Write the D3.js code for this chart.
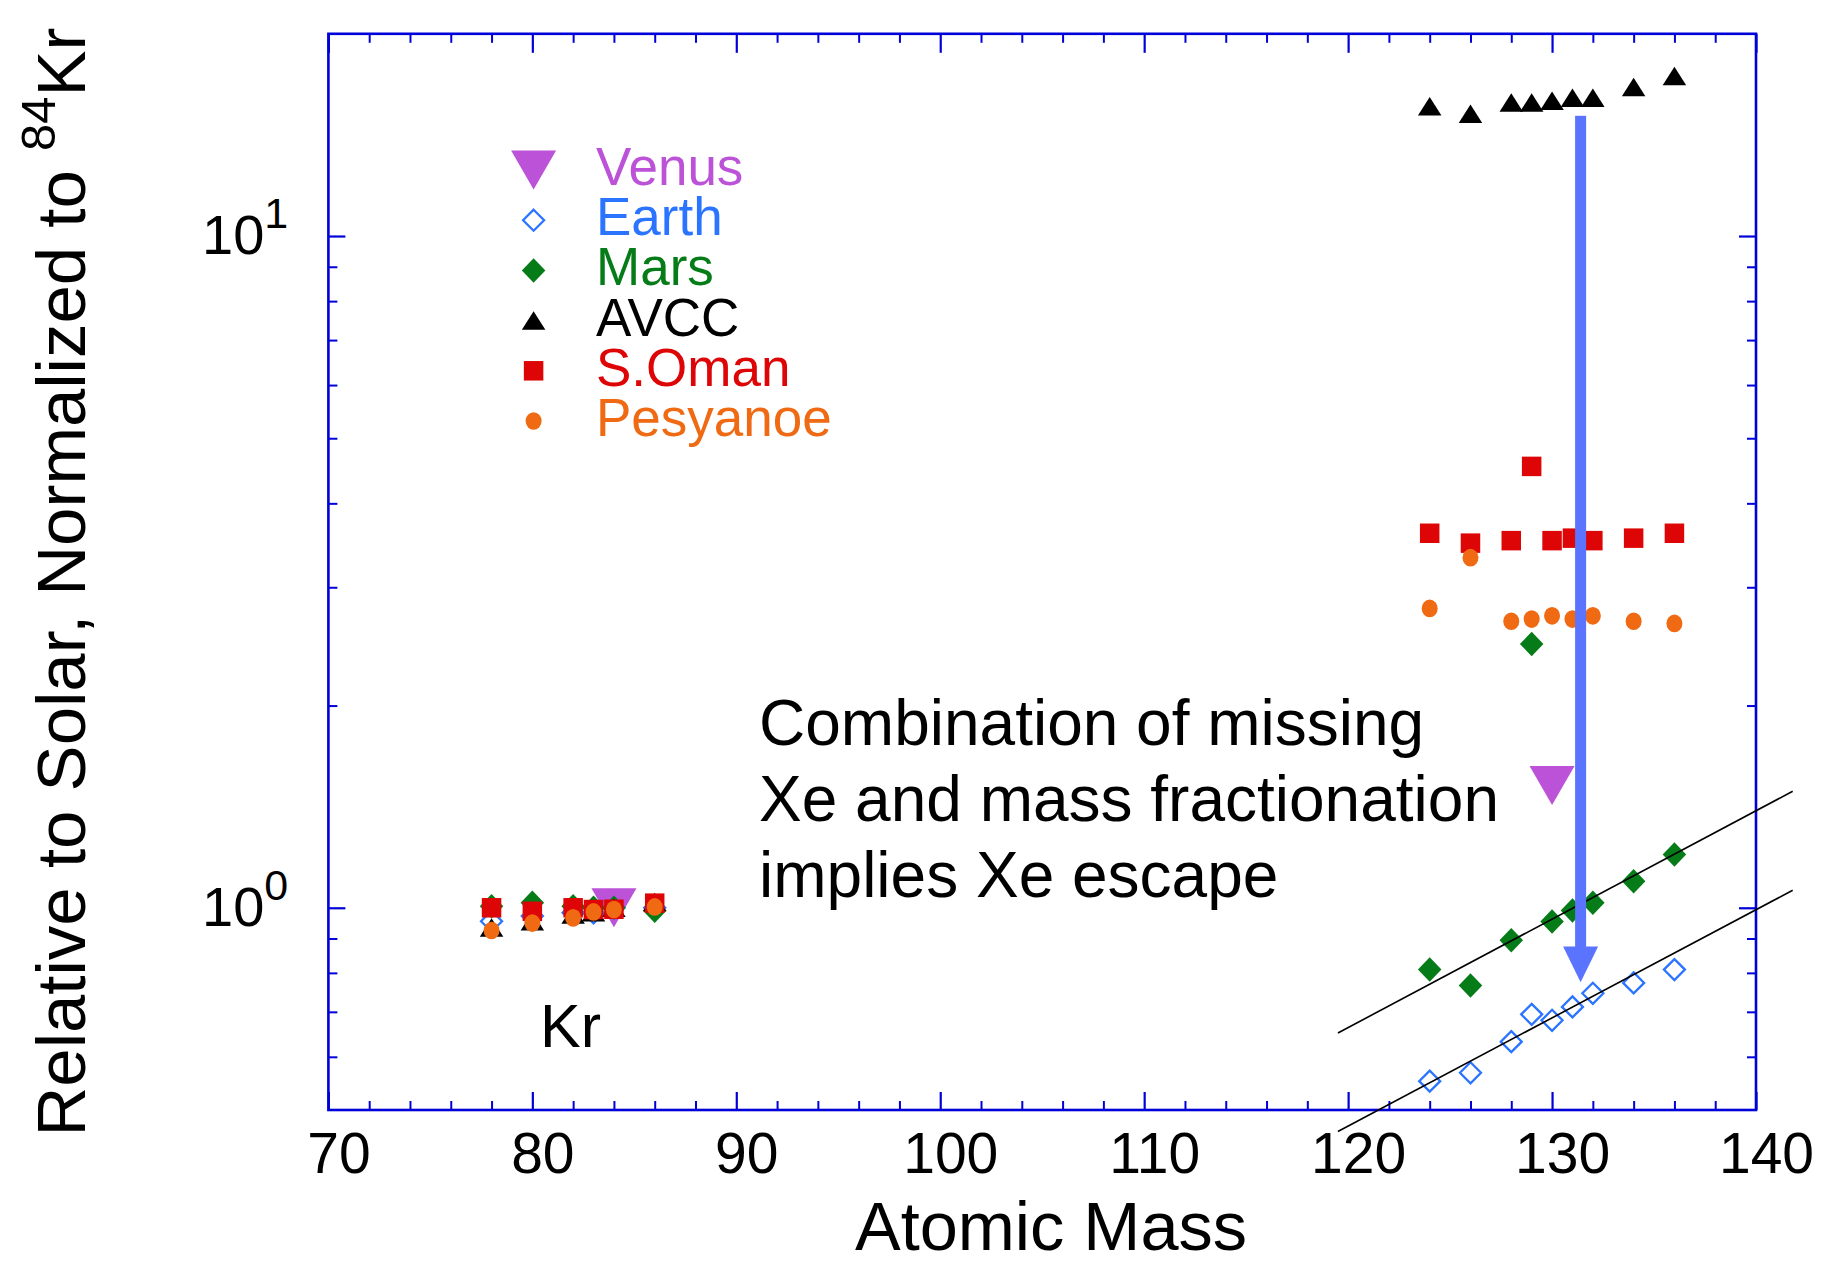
<!DOCTYPE html>
<html>
<head>
<meta charset="utf-8">
<script src="https://cdn.jsdelivr.net/npm/d3@7"></script>
<style>
  html, body { margin: 0; padding: 0; background: #fff; }
  svg { display: block; font-family: "Liberation Sans", Arial, Helvetica, sans-serif; }
</style>
</head>
<body>
<svg id="chart" width="1826" height="1261"></svg>
<script>
// Isotope masses
const krMass = [78, 80, 82, 83, 84, 86];
const xeMass = [124, 126, 128, 129, 130, 131, 132, 134, 136];

// Abundances relative to solar, normalised to 84Kr
const venusMass  = [84, 130];
const venusValue = [1.0, 1.52];

const earthKr = [0.955, 0.972, 0.983, 0.983, 1.0, 1.0];
const earthXe = [0.552, 0.568, 0.632, 0.694, 0.680, 0.712, 0.746, 0.773, 0.809];

const marsKr = [1.005, 1.017, 1.005, 1.0, 1.0, 0.99];
const marsXe = [0.809, 0.766, 0.895, 2.47, 0.954, 0.991, 1.017, 1.095, 1.20];

const avccKr = [0.935, 0.955, 0.977, 0.985, 1.0, 1.02];
const avccXe = [15.6, 15.2, 15.8, 15.8, 15.9, 16.06, 16.06, 16.66, 17.3];

const omanKr = [1.0, 0.988, 1.0, 0.994, 0.995, 1.016];
const omanXe = [3.61, 3.49, 3.52, 4.54, 3.52, 3.55, 3.52, 3.55, 3.61];

const pesyKr = [0.925, 0.949, 0.966, 0.986, 0.994, 1.003];
const pesyXe = [2.79, 3.32, 2.67, 2.69, 2.72, 2.69, 2.72, 2.67, 2.65];

// Mass-fractionation trend lines through the Xe isotopes
const fitMass  = [119.5, 141.8];
const marsFit  = [0.651, 1.491];
const earthFit = [0.4645, 1.062];

// Escape arrow: mass position, start value, head base, tip value
const arrowMass = 131.4;
const arrowFrom = 15.1;
const arrowHeadBase = 0.876;
const arrowTo = 0.775;

// Axis ticks
const xMajor = [70, 80, 90, 100, 110, 120, 130, 140];
const xMinor = [72, 74, 76, 78, 82, 84, 86, 88, 92, 94, 96, 98, 102, 104, 106, 108,
                112, 114, 116, 118, 122, 124, 126, 128, 132, 134, 136, 138];
const yMajor = [1, 10];
const yMajorExp = ["0", "1"];
const yMinor = [0.6, 0.7, 0.8, 0.9, 2, 3, 4, 5, 6, 7, 8, 9];

const legendNames = ["Venus", "Earth", "Mars", "AVCC", "S.Oman", "Pesyanoe"];

// ---------------------------------------------------------------
const svg = d3.select("#chart");
const W = 1826, H = 1261;
const L = 328.4, R = 1756, T = 33.8, B = 1110;

const x = d3.scaleLinear().domain([70, 140]).range([L, R]);
const y = d3.scaleLog().domain([0.5, 20]).range([B, T]);

const axisColor = "#0000d8";

svg.append("rect").attr("width", W).attr("height", H).attr("fill", "#fff");

// marker path builders (w = width, h = height, centred on 0,0)
const shapes = {
  triDown: (w, h) => `M${-w/2},${-h/2}L${w/2},${-h/2}L0,${h/2}Z`,
  triUp:   (w, h) => `M${-w/2},${h/2}L${w/2},${h/2}L0,${-h/2}Z`,
  diamond: (w, h) => `M0,${-h/2}L${w/2},0L0,${h/2}L${-w/2},0Z`,
  square:  (w, h) => `M${-w/2},${-h/2}H${w/2}V${h/2}H${-w/2}Z`,
  ellipse: (w, h) => `M${-w/2},0A${w/2},${h/2} 0 1,0 ${w/2},0A${w/2},${h/2} 0 1,0 ${-w/2},0Z`
};

const zipPts = (ms, vs) => ms.map((m, i) => ({ m, v: vs[i] }));

const series = [
  { name: legendNames[0], color: "#bb52d8", shape: "triDown", w: 45, h: 39, fill: true,
    pts: zipPts(venusMass, venusValue) },
  { name: legendNames[1], color: "#2b74ff", shape: "diamond", w: 21, h: 21, fill: false,
    pts: zipPts(krMass, earthKr).concat(zipPts(xeMass, earthXe)) },
  { name: legendNames[2], color: "#067c18", shape: "diamond", w: 23.5, h: 24.5, fill: true,
    pts: zipPts(krMass, marsKr).concat(zipPts(xeMass, marsXe)) },
  { name: legendNames[3], color: "#000000", shape: "triUp", w: 23.5, h: 18.5, fill: true,
    pts: zipPts(krMass, avccKr).concat(zipPts(xeMass, avccXe)) },
  { name: legendNames[4], color: "#dd0505", shape: "square", w: 19.5, h: 19.5, fill: true,
    pts: zipPts(krMass, omanKr).concat(zipPts(xeMass, omanXe)) },
  { name: legendNames[5], color: "#ef6a12", shape: "ellipse", w: 16, h: 17.7, fill: true,
    pts: zipPts(krMass, pesyKr).concat(zipPts(xeMass, pesyXe)) }
];

function styleMarker(sel, s) {
  sel.attr("d", shapes[s.shape](s.w, s.h));
  if (s.fill) sel.attr("fill", s.color).attr("stroke", "none");
  else sel.attr("fill", "#fff").attr("fill-opacity", 0).attr("stroke", s.color).attr("stroke-width", 2.3);
}

// ---- axes: ticks point into the plot on all four sides
function cleanAxis(g, width) {
  g.select(".domain").remove();
  g.selectAll(".tick line").attr("stroke", axisColor).attr("stroke-width", width);
}

svg.append("g").attr("transform", `translate(0,${B})`)
  .call(d3.axisBottom(x).tickValues(xMajor).tickSize(-18).tickPadding(23).tickFormat(d3.format("d")))
  .call(g => cleanAxis(g, 2.2))
  .call(g => g.selectAll("text").attr("fill", "#000").attr("font-size", 57)
    .attr("font-family", "Liberation Sans, Arial, sans-serif").attr("dx", 10));

svg.append("g").attr("transform", `translate(0,${B})`)
  .call(d3.axisBottom(x).tickValues(xMinor).tickSize(-9).tickFormat(""))
  .call(g => cleanAxis(g, 2));

svg.append("g").attr("transform", `translate(0,${T})`)
  .call(d3.axisTop(x).tickValues(xMajor).tickSize(-19).tickFormat(""))
  .call(g => cleanAxis(g, 2.2));

svg.append("g").attr("transform", `translate(0,${T})`)
  .call(d3.axisTop(x).tickValues(xMinor).tickSize(-9).tickFormat(""))
  .call(g => cleanAxis(g, 2));

svg.append("g").attr("transform", `translate(${L},0)`)
  .call(d3.axisLeft(y).tickValues(yMajor).tickSize(-17).tickFormat(""))
  .call(g => cleanAxis(g, 2.2));

svg.append("g").attr("transform", `translate(${L},0)`)
  .call(d3.axisLeft(y).tickValues(yMinor).tickSize(-9).tickFormat(""))
  .call(g => cleanAxis(g, 2));

svg.append("g").attr("transform", `translate(${R},0)`)
  .call(d3.axisRight(y).tickValues(yMajor).tickSize(-17).tickFormat(""))
  .call(g => cleanAxis(g, 2.2));

svg.append("g").attr("transform", `translate(${R},0)`)
  .call(d3.axisRight(y).tickValues(yMinor).tickSize(-9).tickFormat(""))
  .call(g => cleanAxis(g, 2));

// frame
svg.append("rect")
  .attr("x", L).attr("y", T).attr("width", R - L).attr("height", B - T)
  .attr("fill", "none").attr("stroke", axisColor).attr("stroke-width", 2.6);

// y tick labels as powers of ten
const yLab = svg.append("g").attr("font-size", 56).attr("fill", "#000");
yMajor.forEach((v, i) => {
  const t = yLab.append("text").attr("x", 202).attr("y", y(v) + 18);
  t.append("tspan").text("10");
  t.append("tspan").attr("font-size", 43).attr("dy", -26).text(yMajorExp[i]);
});

// axis titles
svg.append("text")
  .attr("x", 1051).attr("y", 1250).attr("text-anchor", "middle")
  .attr("font-size", 68.5).attr("fill", "#000").text("Atomic Mass");

const yt = svg.append("text")
  .attr("transform", "translate(85,582) rotate(-90)")
  .attr("text-anchor", "middle").attr("font-size", 69).attr("fill", "#000");
yt.append("tspan").text("Relative to Solar, Normalized to ");
yt.append("tspan").attr("font-size", 49).attr("dy", -30).text("84");
yt.append("tspan").attr("dy", 30).text("Kr");

// ---- data markers
series.forEach(s => {
  svg.append("g").selectAll("path").data(s.pts).join("path")
    .attr("transform", d => `translate(${x(d.m)},${y(d.v)})`)
    .call(sel => styleMarker(sel, s));
});

// ---- fractionation lines
const line = d3.line().x(d => x(d.m)).y(d => y(d.v));
[marsFit, earthFit].forEach(f => {
  svg.append("path")
    .attr("d", line(zipPts(fitMass, f)))
    .attr("fill", "none").attr("stroke", "#000").attr("stroke-width", 1.6);
});

// ---- escape arrow
const arrowColor = "#5a74ff";
const ax = x(arrowMass);
svg.append("rect")
  .attr("x", ax - 5.5).attr("y", y(arrowFrom))
  .attr("width", 11).attr("height", y(arrowHeadBase) - y(arrowFrom) + 1)
  .attr("fill", arrowColor);
svg.append("path")
  .attr("d", `M${ax - 17.5},${y(arrowHeadBase)}L${ax + 17.5},${y(arrowHeadBase)}L${ax},${y(arrowTo)}Z`)
  .attr("fill", arrowColor);

// ---- legend
const lg = svg.append("g");
series.forEach((s, i) => {
  const base = 185 + i * 50.2;
  lg.append("path")
    .attr("transform", `translate(533.6,${base - 15})`)
    .call(sel => styleMarker(sel, s));
  lg.append("text")
    .attr("x", 596).attr("y", base)
    .attr("font-size", 53).attr("fill", s.color)
    .text(s.name);
});

// ---- annotations
svg.append("text").attr("x", 540).attr("y", 1047)
  .attr("font-size", 61).attr("fill", "#000").text("Kr");

const note = svg.append("text").attr("font-size", 64).attr("fill", "#000");
["Combination of missing", "Xe and mass fractionation", "implies Xe escape"].forEach((t, i) => {
  note.append("tspan").attr("x", 759).attr("y", 745 + i * 76).text(t);
});
</script>
</body>
</html>
